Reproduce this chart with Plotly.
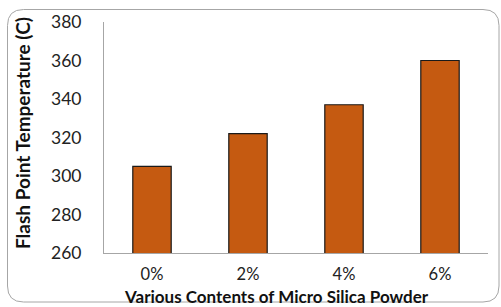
import plotly.graph_objects as go

categories = ["0%", "2%", "4%", "6%"]
flash_point = [305, 322, 337, 360]
y_ticks = [260, 280, 300, 320, 340, 360, 380]

W, H = 501, 307
L, R, T, B = 104, 13, 22, 54
pw, ph = W - L - R, H - T - B

def px(x):
    return (x - L) / pw

def py(y):
    return (H - B - y) / ph

fig = go.Figure()
fig.add_trace(go.Bar(
    x=categories, y=flash_point,
    marker=dict(color="#C55A11", line=dict(color="#1a1a1a", width=1.2)),
))

# rounded chart-area border in paper coordinates
x0, x1, y0, y1, r = 7.5, 499, 9.5, 302, 16
path = (
    f"M {px(x0 + r)},{py(y0)} L {px(x1 - r)},{py(y0)} "
    f"Q {px(x1)},{py(y0)} {px(x1)},{py(y0 + r)} "
    f"L {px(x1)},{py(y1 - r)} Q {px(x1)},{py(y1)} {px(x1 - r)},{py(y1)} "
    f"L {px(x0 + r)},{py(y1)} Q {px(x0)},{py(y1)} {px(x0)},{py(y1 - r)} "
    f"L {px(x0)},{py(y0 + r)} Q {px(x0)},{py(y0)} {px(x0 + r)},{py(y0)} Z"
)

fig.update_layout(
    width=W, height=H,
    margin=dict(l=L, r=R, t=T, b=B, autoexpand=False),
    paper_bgcolor="white", plot_bgcolor="white",
    bargap=0.6, showlegend=False,
    font=dict(family="Lato, Carlito, sans-serif", color="#222"),
    shapes=[dict(type="path", path=path, xref="paper", yref="paper",
                 line=dict(color="#A6A6A6", width=1), layer="below")],
    annotations=[
        dict(text="<b>Flash Point Temperature (C)</b>", xref="paper", yref="paper",
             x=px(22), y=py(133), xanchor="center", yanchor="middle",
             textangle=-90, showarrow=False,
             font=dict(size=19, color="#111")),
        dict(text="<b>Various Contents of Micro Silica Powder</b>", xref="paper", yref="paper",
             x=px(276), y=py(296), xanchor="center", yanchor="middle", showarrow=False,
             font=dict(size=17, color="#111")),
    ],
)
fig.update_xaxes(showline=True, linecolor="#A6A6A6", linewidth=1, showgrid=False,
                 automargin=False,
                 ticks="outside", ticklen=6, tickcolor="rgba(0,0,0,0)",
                 tickfont=dict(size=16.5, color="#222"))
fig.update_yaxes(range=[260, 380], tickvals=y_ticks, showline=True, linecolor="#A6A6A6",
                 linewidth=1, showgrid=False, zeroline=False, automargin=False,
                 ticks="outside", ticklen=18, tickcolor="rgba(0,0,0,0)",
                 tickfont=dict(size=17.5, color="#222"))

fig.write_html("out.html", config={"displayModeBar": False},
               post_script="document.body.style.margin='0';document.body.style.overflow='hidden';")
